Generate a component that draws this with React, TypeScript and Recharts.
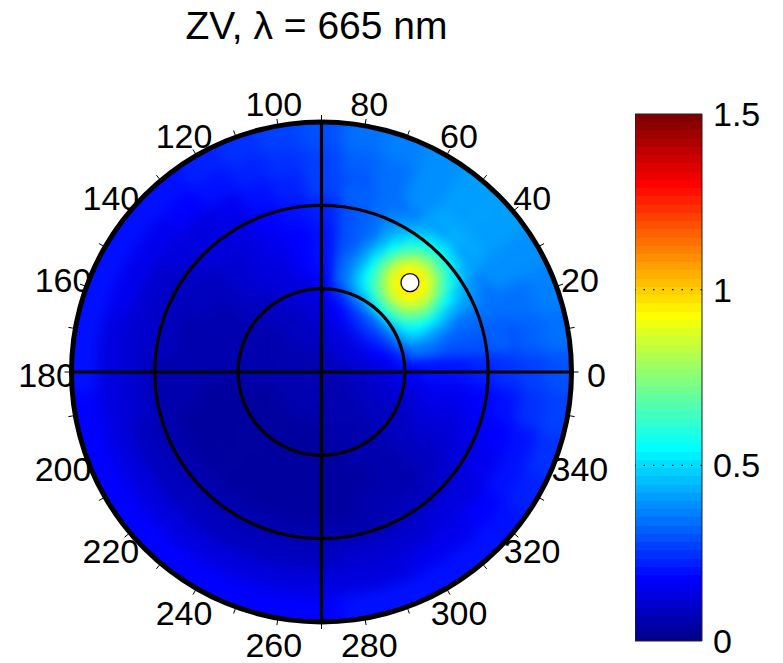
import { PieChart, Pie, Cell, ComposedChart, Bar, XAxis, YAxis, ReferenceLine } from 'recharts';

const TITLE = 'ZV, λ = 665 nm';
const CMAX = 1.5;

// coarse polar grid: ring centres (fraction of the outer radius) x azimuth bins
const RING_CENTERS = [0.05, 0.15, 0.25, 0.35, 0.45, 0.55, 0.65, 0.75, 0.85, 0.95];
const AZIMUTHS = [0, 10, 20, 30, 40, 50, 60, 70, 80, 90, 100, 110, 120, 130, 140, 150, 160, 170,
  180, 190, 200, 210, 220, 230, 240, 250, 260, 270, 280, 290, 300, 310, 320, 330, 340, 350];
const BG_VALUES = [
  [0.07, 0.075, 0.08, 0.08, 0.085, 0.085, 0.08, 0.08, 0.075, 0.07, 0.07, 0.065, 0.065, 0.06, 0.06, 0.06, 0.06, 0.055, 0.055, 0.055, 0.055, 0.055, 0.05, 0.05, 0.05, 0.05, 0.05, 0.055, 0.055, 0.055, 0.06, 0.06, 0.06, 0.065, 0.065, 0.07],
  [0.1, 0.11, 0.12, 0.13, 0.14, 0.14, 0.13, 0.12, 0.11, 0.1, 0.09, 0.085, 0.08, 0.075, 0.07, 0.065, 0.065, 0.06, 0.06, 0.055, 0.05, 0.05, 0.05, 0.05, 0.05, 0.05, 0.05, 0.055, 0.055, 0.06, 0.06, 0.065, 0.07, 0.075, 0.085, 0.09],
  [0.13, 0.15, 0.17, 0.2, 0.22, 0.22, 0.2, 0.17, 0.15, 0.13, 0.11, 0.1, 0.09, 0.08, 0.07, 0.065, 0.06, 0.055, 0.05, 0.05, 0.045, 0.045, 0.04, 0.04, 0.04, 0.04, 0.045, 0.045, 0.05, 0.055, 0.06, 0.07, 0.075, 0.085, 0.1, 0.115],
  [0.17, 0.2, 0.25, 0.3, 0.36, 0.36, 0.3, 0.25, 0.2, 0.17, 0.14, 0.12, 0.1, 0.085, 0.075, 0.065, 0.06, 0.055, 0.05, 0.045, 0.04, 0.04, 0.035, 0.035, 0.035, 0.035, 0.04, 0.04, 0.045, 0.05, 0.055, 0.065, 0.075, 0.09, 0.11, 0.14],
  [0.19, 0.22, 0.3, 0.45, 0.7, 0.7, 0.45, 0.3, 0.23, 0.2, 0.17, 0.14, 0.12, 0.1, 0.085, 0.07, 0.06, 0.055, 0.05, 0.045, 0.04, 0.035, 0.035, 0.03, 0.03, 0.03, 0.035, 0.035, 0.04, 0.045, 0.055, 0.065, 0.08, 0.1, 0.12, 0.15],
  [0.2, 0.24, 0.32, 0.47, 0.72, 0.72, 0.47, 0.32, 0.25, 0.21, 0.18, 0.15, 0.13, 0.11, 0.09, 0.075, 0.065, 0.06, 0.055, 0.05, 0.045, 0.04, 0.035, 0.035, 0.035, 0.035, 0.04, 0.04, 0.045, 0.05, 0.06, 0.07, 0.085, 0.105, 0.13, 0.16],
  [0.22, 0.26, 0.33, 0.42, 0.5, 0.5, 0.42, 0.33, 0.27, 0.23, 0.2, 0.17, 0.14, 0.12, 0.1, 0.09, 0.08, 0.075, 0.07, 0.065, 0.06, 0.06, 0.055, 0.055, 0.055, 0.055, 0.06, 0.06, 0.065, 0.07, 0.08, 0.09, 0.1, 0.12, 0.15, 0.18],
  [0.25, 0.29, 0.34, 0.39, 0.44, 0.44, 0.39, 0.34, 0.29, 0.26, 0.22, 0.19, 0.16, 0.14, 0.125, 0.115, 0.11, 0.1, 0.1, 0.095, 0.09, 0.09, 0.085, 0.085, 0.085, 0.085, 0.09, 0.09, 0.095, 0.1, 0.11, 0.12, 0.13, 0.15, 0.18, 0.21],
  [0.28, 0.31, 0.35, 0.38, 0.41, 0.41, 0.38, 0.35, 0.31, 0.28, 0.25, 0.22, 0.19, 0.17, 0.16, 0.15, 0.145, 0.14, 0.14, 0.135, 0.13, 0.13, 0.125, 0.125, 0.125, 0.125, 0.13, 0.13, 0.135, 0.14, 0.15, 0.16, 0.17, 0.19, 0.21, 0.24],
  [0.3, 0.33, 0.36, 0.39, 0.41, 0.41, 0.39, 0.36, 0.33, 0.3, 0.27, 0.25, 0.22, 0.21, 0.2, 0.195, 0.19, 0.19, 0.19, 0.185, 0.185, 0.18, 0.18, 0.18, 0.18, 0.18, 0.185, 0.185, 0.19, 0.19, 0.195, 0.2, 0.21, 0.22, 0.245, 0.27],
];

// finer grid round the bright spot
const SPOT_RINGS = [0.26, 0.3, 0.34, 0.38, 0.42, 0.46, 0.5, 0.54, 0.58, 0.62, 0.66, 0.7, 0.74];
const SPOT_AZIMUTHS = [10, 15, 20, 25, 30, 35, 40, 45, 50, 55, 60, 65, 70, 75, 80];
const SPOT_VALUES = [
  [0.16, 0.18, 0.2, 0.22, 0.24, 0.25, 0.26, 0.26, 0.26, 0.25, 0.24, 0.22, 0.2, 0.18, 0.16],
  [0.19, 0.22, 0.27, 0.29, 0.31, 0.33, 0.35, 0.35, 0.35, 0.33, 0.31, 0.29, 0.27, 0.22, 0.19],
  [0.25, 0.3, 0.36, 0.4, 0.44, 0.5, 0.53, 0.54, 0.53, 0.5, 0.44, 0.4, 0.36, 0.3, 0.25],
  [0.31, 0.37, 0.44, 0.5, 0.57, 0.64, 0.69, 0.71, 0.69, 0.64, 0.57, 0.5, 0.44, 0.37, 0.31],
  [0.32, 0.37, 0.45, 0.55, 0.65, 0.76, 0.84, 0.88, 0.84, 0.76, 0.65, 0.55, 0.45, 0.37, 0.32],
  [0.31, 0.36, 0.44, 0.55, 0.69, 0.84, 0.93, 0.96, 0.93, 0.84, 0.69, 0.55, 0.44, 0.36, 0.31],
  [0.29, 0.33, 0.41, 0.53, 0.68, 0.86, 0.96, 0.98, 0.96, 0.86, 0.68, 0.53, 0.41, 0.33, 0.29],
  [0.29, 0.32, 0.38, 0.48, 0.63, 0.8, 0.93, 0.96, 0.93, 0.8, 0.63, 0.48, 0.38, 0.32, 0.29],
  [0.29, 0.31, 0.35, 0.43, 0.55, 0.7, 0.83, 0.89, 0.83, 0.7, 0.55, 0.43, 0.35, 0.31, 0.29],
  [0.3, 0.31, 0.35, 0.4, 0.48, 0.6, 0.7, 0.73, 0.7, 0.6, 0.48, 0.4, 0.35, 0.31, 0.3],
  [0.3, 0.32, 0.35, 0.38, 0.44, 0.51, 0.57, 0.6, 0.57, 0.51, 0.44, 0.38, 0.35, 0.32, 0.3],
  [0.31, 0.32, 0.34, 0.36, 0.39, 0.44, 0.48, 0.5, 0.48, 0.44, 0.39, 0.36, 0.34, 0.32, 0.31],
  [0.31, 0.32, 0.34, 0.35, 0.37, 0.4, 0.42, 0.43, 0.42, 0.4, 0.37, 0.35, 0.34, 0.32, 0.31],
];

const SUN = [{ azimuth: 45.3, radius: 0.503 }];
const GRID_CIRCLES = [1 / 3, 2 / 3];
const SPOKES = [0, 90, 180, 270];
const ANGLE_LABELS = [0, 20, 40, 60, 80, 100, 120, 140, 160, 180, 200, 220, 240, 260, 280, 300, 320, 340];
const CBAR_TICKS = [0, 0.5, 1, 1.5];
const CBAR_GRID = [0.5, 1];

const W = 783;
const H = 663;
const CX = 321.5;
const CY = 372;
const R = 250;
const FONT = "'Liberation Sans', Arial, Helvetica, sans-serif";
const RAD = Math.PI / 180;
const NO_MARGIN = { top: 0, right: 0, bottom: 0, left: 0 };

// matlab jet, 64 levels
function jetLevel(i: number) {
  const t = (i + 1) / 64;
  const ch = (c: number) => Math.round(255 * Math.min(1, Math.max(0, 1.5 - Math.abs(4 * t - c))));
  return `rgb(${ch(3)},${ch(2)},${ch(1)})`;
}
function jet(v: number) {
  const t = Math.min(Math.max(v / CMAX, 0), 1);
  return jetLevel(Math.min(63, Math.floor(t * 64)));
}

const pt = (cx: number, cy: number, r: number, deg: number) => ({
  x: cx + r * Math.cos(deg * RAD),
  y: cy - r * Math.sin(deg * RAD),
});

function TickLabel(p: any) {
  const az = AZIMUTHS[p.index];
  const a = pt(p.cx, p.cy, p.outerRadius, p.midAngle);
  const b = pt(p.cx, p.cy, p.outerRadius + 7, p.midAngle);
  const t = pt(p.cx, p.cy, p.outerRadius * 1.1, p.midAngle);
  return (
    <g>
      <line x1={a.x} y1={a.y} x2={b.x} y2={b.y} stroke="#000" strokeWidth={1} />
      {ANGLE_LABELS.includes(az) && (
        <text x={t.x} y={t.y + 14.5} textAnchor="middle" fontSize={34} fontFamily={FONT} fill="#000">
          {az}
        </text>
      )}
    </g>
  );
}

function SpokeLine(p: any) {
  const b = pt(p.cx, p.cy, p.outerRadius, p.midAngle);
  return <line x1={p.cx} y1={p.cy} x2={b.x} y2={b.y} stroke="#000" strokeWidth={3.2} />;
}

function SunMarker(p: any) {
  const c = pt(p.cx, p.cy, p.outerRadius, p.midAngle);
  return <circle cx={c.x} cy={c.y} r={9} fill="#fff" stroke="#000" strokeWidth={1.2} />;
}

const layer = { position: 'absolute' as const, left: 0, top: 0, width: W, height: H };
const disc = `circle(${R}px at ${CX}px ${CY}px)`;

export default function App() {
  const half = (RING_CENTERS[1] - RING_CENTERS[0]) / 2;
  const spotHalf = (SPOT_RINGS[1] - SPOT_RINGS[0]) / 2;
  const spotStep = SPOT_AZIMUTHS[1] - SPOT_AZIMUTHS[0];
  const azStep = AZIMUTHS[1] - AZIMUTHS[0];

  return (
    <div style={{ ...layer, background: '#fff' }}>
      {/* heat map, coarse grid */}
      <div style={{ ...layer, clipPath: disc }}>
        <div style={{ ...layer, filter: 'blur(7px)' }}>
          <PieChart width={W} height={H} margin={NO_MARGIN}>
            {RING_CENTERS.map((rc, i) => (
              <Pie
                key={'bg' + i}
                data={AZIMUTHS.map((az, j) => ({ az, v: BG_VALUES[i][j], w: 1 }))}
                dataKey="w"
                cx={CX}
                cy={CY}
                innerRadius={i === 0 ? 0 : (rc - half) * R}
                outerRadius={i === RING_CENTERS.length - 1 ? R + 30 : (rc + half) * R}
                startAngle={-azStep / 2}
                endAngle={360 - azStep / 2}
                isAnimationActive={false}
              >
                {AZIMUTHS.map((az, j) => (
                  <Cell key={az} fill={jet(BG_VALUES[i][j])} stroke={jet(BG_VALUES[i][j])} />
                ))}
              </Pie>
            ))}
          </PieChart>
        </div>
      </div>

      {/* heat map, finer grid round the spot */}
      <div style={{ ...layer, clipPath: disc }}>
        <div style={{ ...layer, filter: 'blur(4px)' }}>
          <PieChart width={W} height={H} margin={NO_MARGIN}>
            {SPOT_RINGS.map((rc, i) => (
              <Pie
                key={'sp' + i}
                data={SPOT_AZIMUTHS.map((az, j) => ({ az, v: SPOT_VALUES[i][j], w: 1 }))}
                dataKey="w"
                cx={CX}
                cy={CY}
                innerRadius={(rc - spotHalf) * R}
                outerRadius={(rc + spotHalf) * R}
                startAngle={SPOT_AZIMUTHS[0] - spotStep / 2}
                endAngle={SPOT_AZIMUTHS[SPOT_AZIMUTHS.length - 1] + spotStep / 2}
                isAnimationActive={false}
              >
                {SPOT_AZIMUTHS.map((az, j) => (
                  <Cell key={az} fill={jet(SPOT_VALUES[i][j])} stroke={jet(SPOT_VALUES[i][j])} />
                ))}
              </Pie>
            ))}
          </PieChart>
        </div>
      </div>

      {/* polar grid, ticks, labels, sun marker */}
      <div style={layer}>
        <PieChart width={W} height={H} margin={NO_MARGIN}>
          {GRID_CIRCLES.map((g) => (
            <Pie
              key={'gc' + g}
              data={[{ w: 1 }]}
              dataKey="w"
              cx={CX}
              cy={CY}
              innerRadius={g * R - 1.6}
              outerRadius={g * R + 1.6}
              startAngle={0}
              endAngle={360}
              fill="#000"
              stroke="none"
              isAnimationActive={false}
            />
          ))}
          <Pie
            data={SPOKES.map((a) => ({ a, w: 1 }))}
            dataKey="w"
            cx={CX}
            cy={CY}
            innerRadius={0}
            outerRadius={R}
            startAngle={-45}
            endAngle={315}
            fill="none"
            stroke="none"
            label={SpokeLine}
            labelLine={false}
            isAnimationActive={false}
          />
          <Pie
            data={[{ w: 1 }]}
            dataKey="w"
            cx={CX}
            cy={CY}
            innerRadius={R - 2.5}
            outerRadius={R + 2.5}
            startAngle={0}
            endAngle={360}
            fill="#000"
            stroke="none"
            isAnimationActive={false}
          />
          <Pie
            data={AZIMUTHS.map((az) => ({ az, w: 1 }))}
            dataKey="w"
            cx={CX}
            cy={CY}
            innerRadius={R}
            outerRadius={R}
            startAngle={-azStep / 2}
            endAngle={360 - azStep / 2}
            fill="none"
            stroke="none"
            label={TickLabel}
            labelLine={false}
            isAnimationActive={false}
          />
          {SUN.map((s, i) => (
            <Pie
              key={'sun' + i}
              data={[{ w: 1 }]}
              dataKey="w"
              cx={CX}
              cy={CY}
              innerRadius={s.radius * R}
              outerRadius={s.radius * R}
              startAngle={s.azimuth - 0.5}
              endAngle={s.azimuth + 0.5}
              fill="none"
              stroke="none"
              label={SunMarker}
              labelLine={false}
              isAnimationActive={false}
            />
          ))}
        </PieChart>
      </div>

      <svg style={{ position: 'absolute', left: 0, top: 0 }} width={W} height={60}>
        <text x={316.5} y={39} textAnchor="middle" fontSize={39} fontFamily={FONT} fill="#000">
          {TITLE}
        </text>
      </svg>

      <div style={{ position: 'absolute', left: 635, top: 94 }}>
        <ComposedChart
          width={157}
          height={567}
          data={[{ name: 'cbar', top: CMAX }]}
          margin={{ top: 20, right: 0, bottom: 20, left: 0 }}
          barCategoryGap={0}
        >
          <defs>
            <linearGradient id="jetbar" x1="0" y1="1" x2="0" y2="0">
              {Array.from({ length: 64 }).flatMap((_, i) => [
                <stop key={'a' + i} offset={i / 64} stopColor={jetLevel(i)} />,
                <stop key={'b' + i} offset={(i + 1) / 64} stopColor={jetLevel(i)} />,
              ])}
            </linearGradient>
          </defs>
          <XAxis dataKey="name" hide />
          <YAxis
            orientation="right"
            width={90}
            domain={[0, CMAX]}
            ticks={CBAR_TICKS}
            interval={0}
            tickLine={false}
            axisLine={false}
            tickMargin={5}
            tick={{ fontSize: 34, fill: '#000', fontFamily: FONT }}
          />
          <Bar dataKey="top" fill="url(#jetbar)" stroke="#222" strokeWidth={1} isAnimationActive={false} />
          {CBAR_GRID.map((v) => (
            <ReferenceLine key={v} y={v} stroke="#000" strokeWidth={1.2} strokeDasharray="1.5 8" />
          ))}
        </ComposedChart>
      </div>
    </div>
  );
}
